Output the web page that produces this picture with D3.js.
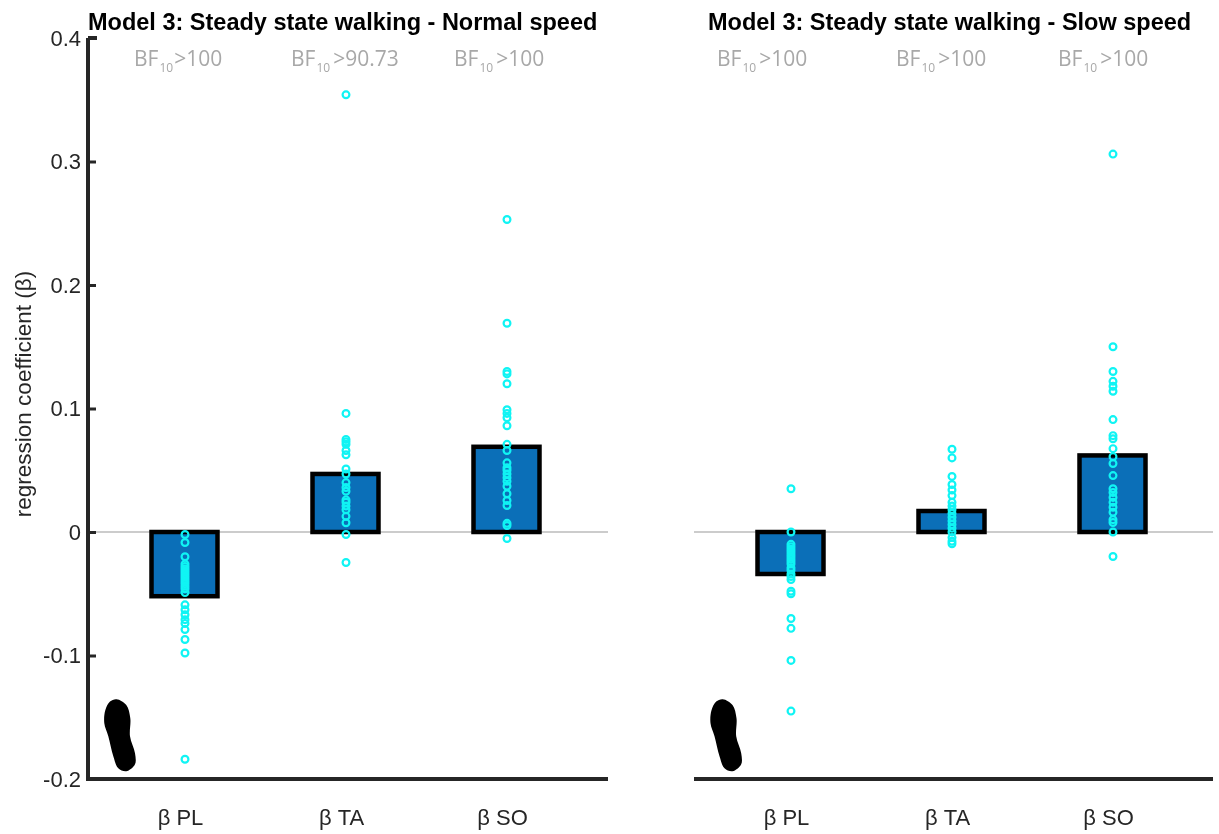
<!DOCTYPE html>
<html><head><meta charset="utf-8">
<script src="https://cdn.jsdelivr.net/npm/d3@7"></script>
<style>html,body{margin:0;padding:0;background:#fff}svg{display:block;filter:blur(0.45px)}text{font-family:"Liberation Sans",Arial,sans-serif}</style>
</head><body><svg id="c" width="1219" height="834"></svg>
<script>
const muscles = ["β PL","β TA","β SO"];
const titles = ["Model 3: Steady state walking - Normal speed","Model 3: Steady state walking - Slow speed"];
const yTicks = [-0.2,-0.1,0,0.1,0.2,0.3,0.4];
const normalBars = [-0.052,0.047,0.069];
const slowBars = [-0.034,0.017,0.062];
const normalBF = [">100",">90.73",">100"];
const slowBF = [">100",">100",">100"];
const normalPL = [-0.002,-0.0085,-0.020,-0.026,-0.028,-0.030,-0.032,-0.034,-0.036,-0.038,-0.040,-0.042,-0.044,-0.046,-0.049,-0.059,-0.063,-0.067,-0.071,-0.074,-0.079,-0.087,-0.098,-0.184];
const normalTA = [0.354,0.096,0.075,0.073,0.071,0.066,0.0625,0.051,0.047,0.040,0.036,0.033,0.026,0.024,0.021,0.018,0.0127,0.0075,-0.002,-0.0247];
const normalSO = [0.253,0.169,0.130,0.128,0.120,0.099,0.096,0.0925,0.086,0.071,0.066,0.056,0.052,0.050,0.047,0.044,0.041,0.037,0.031,0.0255,0.0215,0.007,0.0053,-0.0053];
const slowPL = [0.035,0,-0.010,-0.012,-0.014,-0.016,-0.018,-0.020,-0.022,-0.024,-0.026,-0.029,-0.031,-0.034,-0.036,-0.0385,-0.048,-0.05,-0.07,-0.078,-0.104,-0.145];
const slowTA = [0.067,0.060,0.045,0.0385,0.034,0.0295,0.024,0.021,0.018,0.015,0.012,0.009,0.006,0.003,0,-0.0045,-0.0075,-0.0095];
const slowSO = [0.306,0.150,0.130,0.122,0.118,0.114,0.091,0.078,0.0755,0.0675,0.061,0.0555,0.0457,0.035,0.032,0.028,0.024,0.020,0.016,0.010,0.0077,0,-0.0198];
const footOutline = [[12.3,0],[22,5.7],[26,19],[25.7,37],[30.7,54],[30.7,65],[22,72],[14,69],[9,57],[4,37],[0,24],[1,11],[5.7,2.3]];

const panels = [
 {left:88,right:608,title:titles[0],titleX:88,bars:normalBars,pts:[normalPL,normalTA,normalSO],bf:normalBF,bfX:[134,291,454],bfGap:[1,3,3],axis:true,footX:104.3},
 {left:696,right:1213,title:titles[1],titleX:708,bars:slowBars,pts:[slowPL,slowTA,slowSO],bf:slowBF,bfX:[717,896,1058],bfGap:[3,3,3],axis:false,footX:710.5}
];
const svg = d3.select("#c");
const ink = "#262626";
const y = d3.scaleLinear().domain([-0.2,0.4]).range([779,38]);
const bandW = 68;
panels.forEach((p,k)=>{
  const x = d3.scalePoint().domain(muscles).range(k===0?[185,507]:[791,1113]);
  const g = svg.append("g");
  g.append("line").attr("x1",p.left-2).attr("x2",p.right).attr("y1",y(0)).attr("y2",y(0)).attr("stroke","#999").attr("stroke-width",1.2);
  g.selectAll("rect.bar").data(p.bars).join("rect").attr("class","bar")
    .attr("x",(d,i)=>x(muscles[i])-bandW/2+0.5)
    .attr("width",bandW-2)
    .attr("y",d=>y(Math.max(d,0)))
    .attr("height",d=>Math.abs(y(d)-y(0)))
    .attr("fill","#0b6fb8").attr("stroke","#000").attr("stroke-width",4.5);
  p.pts.forEach((arr,i)=>{
    g.append("g").selectAll("circle").data(arr).join("circle")
      .attr("cx",x(muscles[i])).attr("cy",d=>y(d)).attr("r",3.4)
      .attr("fill","none").attr("stroke","#10f4f4").attr("stroke-width",2.2);
  });
  const xa = g.append("g").attr("transform",`translate(0,${y(-0.2)})`).call(d3.axisBottom(x).tickSize(0).tickPadding(30));
  xa.select(".domain").attr("stroke",ink).attr("stroke-width",4).attr("d",`M${p.left-2},0H${p.right}`);
  xa.selectAll("text").attr("font-size",22).attr("dx",-5).attr("fill",ink).attr("font-family","Liberation Sans");
  if(p.axis){
    const ya = g.append("g").attr("transform",`translate(${p.left},0)`)
      .call(d3.axisLeft(y).tickValues(yTicks).tickFormat(d=>d===0?"0":d3.format(".1f")(d).replace("−","-")).tickSizeInner(-8).tickSizeOuter(0).tickPadding(7));
    ya.select(".domain").attr("stroke",ink).attr("stroke-width",4).attr("d","M0,38H9M0,38V779");
    ya.selectAll(".tick line").attr("stroke",ink).attr("stroke-width",3);
    ya.selectAll("text").attr("font-size",22).attr("fill",ink).attr("font-family","Liberation Sans");
  }
  g.append("text").attr("x",p.titleX).attr("y",30).attr("font-size",23.5).attr("font-weight","bold").attr("fill","#000").text(p.title);
  p.bf.forEach((s,i)=>{
    const t = g.append("text").attr("x",p.bfX[i]).attr("y",66).attr("fill","#a8a8a8").attr("font-size",21).style("font-family","Open Sans");
    t.append("tspan").text("BF");
    t.append("tspan").attr("font-size",12).attr("dy",6).attr("dx",1).text("10");
    t.append("tspan").attr("dy",-6).attr("dx",p.bfGap[i]).text(s);
  });
  const foot = d3.line().curve(d3.curveCatmullRomClosed.alpha(0.5));
  g.append("path").attr("d",foot(footOutline)).attr("transform",`translate(${p.footX},699.3)`).attr("fill","#000");
});
svg.append("text").attr("transform","translate(31,394) rotate(-90)").attr("text-anchor","middle").attr("font-size",22.5).attr("fill",ink).text("regression coefficient (β)");
</script></body></html>
